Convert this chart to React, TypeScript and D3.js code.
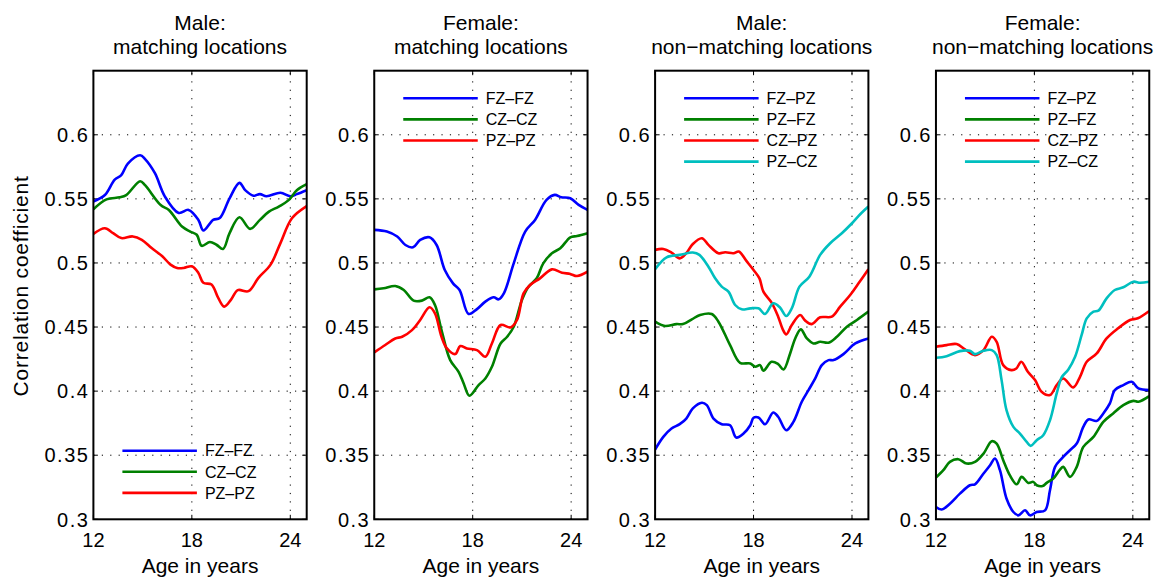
import React from "react";
import * as d3 from "d3";

// Correlation coefficient by age, per electrode pairing. Each point is [age, r].
const maleMatchFZ: [number, number][] = [
  [12, 0.548], [12.7, 0.553], [13.3, 0.565], [13.7, 0.5685], [14.1, 0.5775], [14.85, 0.584],
  [15.15, 0.581], [15.75, 0.57], [16.35, 0.552], [17.2, 0.539], [17.8, 0.5414], [18.4, 0.5336],
  [18.7, 0.5253], [19.3, 0.5336], [19.7, 0.535], [20.3, 0.5504], [20.9, 0.5625], [21.25, 0.5568],
  [21.75, 0.5525], [22.15, 0.5537], [22.55, 0.552], [23.4, 0.5548], [24, 0.552], [24.4, 0.5537],
  [25, 0.5568],
];
const maleMatchCZ: [number, number][] = [
  [12, 0.5419], [12.8, 0.5496], [13.6, 0.5512], [14.0, 0.553], [14.85, 0.5638], [15.15, 0.5607],
  [16.1, 0.5452], [16.6, 0.5413], [17.4, 0.5284], [17.9, 0.5245], [18.3, 0.522], [18.6, 0.5134],
  [19.1, 0.5163], [19.5, 0.5142], [19.9, 0.5109], [20.3, 0.5233], [20.9, 0.5357], [21.55, 0.5266],
  [22.15, 0.5336], [22.7, 0.54], [23.3, 0.544], [23.9, 0.549], [24.4, 0.5568], [25, 0.5615],
];
const maleMatchPZ: [number, number][] = [
  [12, 0.5227], [12.7, 0.5271], [13.2, 0.5233], [13.7, 0.5194], [14.4, 0.5207], [14.95, 0.5181],
  [15.55, 0.5116], [16.2, 0.5052], [16.7, 0.4987], [17.1, 0.4961], [17.5, 0.4961], [18.0, 0.4974],
  [18.4, 0.4922], [18.7, 0.4845], [19.2, 0.4832], [19.6, 0.4729], [19.97, 0.4659], [20.4, 0.4716],
  [20.8, 0.4788], [21.45, 0.478], [22.06, 0.4884], [22.8, 0.4987], [23.4, 0.5155], [24.1, 0.5349],
  [25, 0.5444],
];

const femaleMatchFZ: [number, number][] = [
  [12, 0.5258], [12.77, 0.5245], [13.4, 0.5206], [13.9, 0.514], [14.36, 0.5122], [14.8, 0.518],
  [15.37, 0.52], [15.8, 0.514], [16.3, 0.4945], [16.8, 0.4841], [17.2, 0.4789], [17.75, 0.4602],
  [18.26, 0.464], [18.77, 0.4698], [19.28, 0.4732], [19.58, 0.4716], [19.9, 0.4763], [20.5, 0.4997],
  [21.2, 0.5245], [21.8, 0.5336], [22.5, 0.5492], [23.0, 0.5531], [23.4, 0.5513], [23.95, 0.5505],
  [24.46, 0.5453], [25, 0.5414],
];
const femaleMatchCZ: [number, number][] = [
  [12, 0.4794], [12.57, 0.4802], [13.28, 0.482], [13.8, 0.4789], [14.4, 0.4706], [14.9, 0.4706],
  [15.37, 0.4732], [15.7, 0.4672], [16.1, 0.4477], [16.63, 0.4242], [17.14, 0.4151], [17.45, 0.406],
  [17.8, 0.3964], [18.36, 0.4047], [18.77, 0.4099], [19.17, 0.419], [19.7, 0.4372], [20.1, 0.4424],
  [20.5, 0.4502], [21.0, 0.4711], [21.4, 0.4815], [21.9, 0.488], [22.3, 0.4997], [22.83, 0.5075],
  [23.34, 0.5115], [23.95, 0.52], [24.36, 0.521], [25, 0.5232],
];
const femaleMatchPZ: [number, number][] = [
  [12, 0.4302], [12.67, 0.436], [13.28, 0.4411], [13.7, 0.4424], [14.3, 0.4476], [14.8, 0.4555],
  [15.37, 0.4654], [15.7, 0.4607], [16.1, 0.4424], [16.43, 0.4333], [16.94, 0.4289], [17.24, 0.4352],
  [17.65, 0.4333], [18.26, 0.432], [18.77, 0.4268], [19.17, 0.4372], [19.7, 0.4516], [20.3, 0.4497],
  [20.7, 0.4555], [21.1, 0.4763], [21.5, 0.4828], [22.1, 0.488], [22.83, 0.495], [23.44, 0.4924],
  [23.95, 0.4914], [24.36, 0.4898], [25, 0.4932],
];

const maleNonFZPZ: [number, number][] = [
  [12, 0.3544], [12.5, 0.3643], [13.0, 0.3708], [13.5, 0.3742], [13.9, 0.3786], [14.3, 0.3865],
  [14.85, 0.3909], [15.15, 0.3891], [15.56, 0.3786], [16.06, 0.3742], [16.57, 0.3734], [16.94, 0.3638],
  [17.39, 0.3669], [17.8, 0.3734], [18.0, 0.3792], [18.3, 0.3794], [18.7, 0.3742], [19.2, 0.3833],
  [19.5, 0.38], [19.99, 0.3695], [20.43, 0.376], [20.94, 0.3917], [21.35, 0.4008], [21.76, 0.4099],
  [22.16, 0.4203], [22.57, 0.4242], [22.87, 0.4242], [23.48, 0.4289], [24.2, 0.4372], [25, 0.4411],
];
const maleNonPZFZ: [number, number][] = [
  [12, 0.4542], [12.6, 0.4508], [13.3, 0.4523], [13.7, 0.4523], [14.24, 0.456], [14.74, 0.4594],
  [15.45, 0.4602], [15.86, 0.4542], [16.57, 0.4359], [17.18, 0.4221], [17.8, 0.4216], [18.1, 0.419],
  [18.4, 0.4203], [18.6, 0.4159], [19.1, 0.4229], [19.5, 0.4211], [19.83, 0.4169], [20.23, 0.4294],
  [20.54, 0.4411], [20.88, 0.4482], [21.25, 0.4411], [21.65, 0.4372], [22.06, 0.4385], [22.57, 0.4378],
  [23.08, 0.4424], [23.69, 0.4503], [24.3, 0.4555], [25, 0.462],
];
const maleNonCZPZ: [number, number][] = [
  [12, 0.5102], [12.5, 0.5109], [13.0, 0.5081], [13.5, 0.5036], [13.9, 0.5076], [14.3, 0.5148],
  [14.85, 0.5193], [15.25, 0.5141], [15.86, 0.5076], [16.27, 0.5083], [16.78, 0.5076], [17.1, 0.5089],
  [17.6, 0.501], [18.0, 0.4945], [18.36, 0.488], [18.6, 0.4776], [19.1, 0.469], [19.5, 0.4581],
  [19.78, 0.4482], [19.99, 0.4443], [20.33, 0.4516], [20.84, 0.4594], [21.15, 0.455], [21.55, 0.4523],
  [22.06, 0.4576], [22.77, 0.4581], [23.28, 0.4659], [23.89, 0.475], [24.4, 0.4841], [25, 0.4951],
];
const maleNonPZCZ: [number, number][] = [
  [12, 0.4951], [12.7, 0.5044], [13.5, 0.5063], [14.3, 0.5081], [14.7, 0.5063], [15.25, 0.4971],
  [15.66, 0.488], [16.06, 0.4815], [16.47, 0.4776], [16.88, 0.4672], [17.28, 0.4638], [17.8, 0.4646],
  [18.3, 0.4646], [18.7, 0.4602], [19.2, 0.4685], [19.6, 0.4654], [19.99, 0.4586], [20.33, 0.4646],
  [20.8, 0.4815], [21.4, 0.4893], [22.06, 0.5063], [22.67, 0.5154], [23.38, 0.5232], [24.0, 0.531],
  [24.5, 0.538], [25, 0.544],
];

const femaleNonFZPZ: [number, number][] = [
  [12, 0.3096], [12.35, 0.3076], [12.85, 0.3122], [13.46, 0.32], [14.07, 0.3266], [14.38, 0.3273],
  [14.9, 0.3357], [15.3, 0.3422], [15.6, 0.3474], [15.9, 0.3383], [16.3, 0.3162], [16.72, 0.3057],
  [17.02, 0.3031], [17.43, 0.307], [17.73, 0.3031], [18.14, 0.3057], [18.65, 0.307], [18.95, 0.3227],
  [19.26, 0.3409], [19.66, 0.3474], [20.17, 0.3539], [20.58, 0.3591], [20.98, 0.3721], [21.29, 0.3779],
  [21.8, 0.3768], [22.2, 0.3826], [22.6, 0.3904], [22.9, 0.4008], [23.42, 0.4047], [23.93, 0.4073],
  [24.34, 0.4021], [25, 0.4008],
];
const femaleNonPZFZ: [number, number][] = [
  [12, 0.3326], [12.45, 0.3383], [12.85, 0.3448], [13.36, 0.3469], [13.87, 0.3435], [14.38, 0.3448],
  [14.9, 0.3513], [15.4, 0.3609], [15.7, 0.3591], [16.1, 0.3461], [16.5, 0.3344], [16.92, 0.3273],
  [17.22, 0.3331], [17.63, 0.3284], [17.93, 0.3292], [18.14, 0.3266], [18.5, 0.326], [18.75, 0.3284],
  [19.15, 0.3318], [19.56, 0.3388], [19.76, 0.3409], [20.17, 0.3331], [20.58, 0.3409], [20.98, 0.3565],
  [21.6, 0.3643], [22.2, 0.376], [22.8, 0.3826], [23.42, 0.3891], [24.03, 0.3924], [24.34, 0.3917],
  [25, 0.3961],
];
const femaleNonCZPZ: [number, number][] = [
  [12, 0.4346], [12.65, 0.4359], [13.26, 0.4367], [13.77, 0.4326], [14.38, 0.4281], [14.9, 0.432],
  [15.4, 0.4424], [15.7, 0.4385], [16.1, 0.4203], [16.6, 0.4164], [16.9, 0.4177], [17.2, 0.4229],
  [17.6, 0.4151], [18.04, 0.4086], [18.44, 0.3995], [18.95, 0.3969], [19.36, 0.4047], [19.76, 0.4099],
  [20.37, 0.4029], [20.78, 0.4112], [21.19, 0.4229], [21.8, 0.4294], [22.4, 0.4411], [23.1, 0.449],
  [23.83, 0.4555], [24.3, 0.4568], [25, 0.4625],
];
const femaleNonPZCZ: [number, number][] = [
  [12, 0.426], [12.65, 0.4273], [13.46, 0.4312], [14.07, 0.4315], [14.38, 0.4289], [14.9, 0.4315],
  [15.4, 0.432], [15.7, 0.4281], [16.0, 0.4086], [16.3, 0.3852], [16.72, 0.3721], [17.12, 0.3669],
  [17.53, 0.3604], [17.77, 0.3573], [18.14, 0.3617], [18.54, 0.3656], [18.95, 0.3773], [19.36, 0.3982],
  [19.66, 0.4107], [20.07, 0.4169], [20.48, 0.4268], [20.88, 0.4438], [21.19, 0.4568], [21.6, 0.462],
  [21.9, 0.4628], [22.4, 0.4724], [22.9, 0.4789], [23.42, 0.481], [24.03, 0.4854], [24.44, 0.4846],
  [25, 0.4854],
];

const yTicks = [0.3, 0.35, 0.4, 0.45, 0.5, 0.55, 0.6];
const xTicks = [12, 18, 24];
const matchLabels = ["FZ\u2013FZ", "CZ\u2013CZ", "PZ\u2013PZ"];
const nonMatchLabels = ["FZ\u2013PZ", "PZ\u2013FZ", "CZ\u2013PZ", "PZ\u2013CZ"];
const colors = ["#0000ff", "#008000", "#ff0000", "#00bfbf"];

type Panel = {
  title: [string, string];
  series: [number, number][][];
  labels: string[];
  legendBottom: boolean;
};

const panels: Panel[] = [
  { title: ["Male:", "matching locations"], series: [maleMatchFZ, maleMatchCZ, maleMatchPZ], labels: matchLabels, legendBottom: true },
  { title: ["Female:", "matching locations"], series: [femaleMatchFZ, femaleMatchCZ, femaleMatchPZ], labels: matchLabels, legendBottom: false },
  { title: ["Male:", "non\u2212matching locations"], series: [maleNonFZPZ, maleNonPZFZ, maleNonCZPZ, maleNonPZCZ], labels: nonMatchLabels, legendBottom: false },
  { title: ["Female:", "non\u2212matching locations"], series: [femaleNonFZPZ, femaleNonPZFZ, femaleNonCZPZ, femaleNonPZCZ], labels: nonMatchLabels, legendBottom: false },
];

const W = 1156;
const H = 580;
const TOP = 70.7;
const BOTTOM = 519.3;
const PW = 213.3;
const STEP = 280.85;
const FIRST = 93.4;
const FONT = "'Liberation Sans', Arial, Helvetica, sans-serif";

function PanelView({ p, idx }: { p: Panel; idx: number }) {
  const left = FIRST + idx * STEP;
  const right = left + PW;
  const x = d3.scaleLinear().domain([12, 25]).range([left, right]);
  const y = d3.scaleLinear().domain([0.3, 0.65]).range([BOTTOM, TOP]);
  const line = d3
    .line<[number, number]>()
    .x((d) => x(d[0]))
    .y((d) => y(d[1]))
    .curve(d3.curveCatmullRom.alpha(0.5));
  const cx = (left + right) / 2;
  const clipId = `clip-${idx}`;
  const tickLen = 4.5;
  const legendY0 = p.legendBottom ? 450.7 : 98.3;
  const legendStep = 21.1;

  return (
    <g>
      <defs>
        <clipPath id={clipId}>
          <rect x={left} y={TOP} width={PW} height={BOTTOM - TOP} />
        </clipPath>
      </defs>
      {/* title */}
      <text x={cx} y={30} textAnchor="middle" fontSize={21} fontFamily={FONT} fill="#000">
        {p.title[0]}
      </text>
      <text x={cx} y={54} textAnchor="middle" fontSize={21} fontFamily={FONT} fill="#000">
        {p.title[1]}
      </text>
      {/* dotted grid */}
      {yTicks.filter((t) => t > 0.3).map((t) => (
        <line key={`gy${t}`} x1={left} x2={right} y1={y(t)} y2={y(t)} stroke="#000" strokeWidth={1} strokeDasharray="1.2 7.2" />
      ))}
      {xTicks.filter((t) => t > 12).map((t) => (
        <line key={`gx${t}`} x1={x(t)} x2={x(t)} y1={BOTTOM} y2={TOP} stroke="#000" strokeWidth={1} strokeDasharray="1.2 7.2" />
      ))}
      {/* inward ticks */}
      {yTicks.map((t) => (
        <g key={`ty${t}`}>
          <line x1={left} x2={left + tickLen} y1={y(t)} y2={y(t)} stroke="#000" strokeWidth={1} />
          <line x1={right} x2={right - tickLen} y1={y(t)} y2={y(t)} stroke="#000" strokeWidth={1} />
        </g>
      ))}
      {xTicks.map((t) => (
        <g key={`tx${t}`}>
          <line x1={x(t)} x2={x(t)} y1={BOTTOM} y2={BOTTOM - tickLen} stroke="#000" strokeWidth={1} />
          <line x1={x(t)} x2={x(t)} y1={TOP} y2={TOP + tickLen} stroke="#000" strokeWidth={1} />
        </g>
      ))}
      {/* series */}
      <g clipPath={`url(#${clipId})`}>
        {p.series.map((s, i) => (
          <path key={i} d={line(s) ?? ""} fill="none" stroke={colors[i]} strokeWidth={2.6} strokeLinejoin="round" />
        ))}
      </g>
      {/* axes box */}
      <rect x={left} y={TOP} width={PW} height={BOTTOM - TOP} fill="none" stroke="#000" strokeWidth={2} />
      {/* tick labels */}
      {yTicks.map((t) => (
        <text key={`ly${t}`} x={left - 4} y={y(t)} dy="0.36em" textAnchor="end" fontSize={20} fontFamily={FONT} letterSpacing={1.5} fill="#000">
          {String(t)}
        </text>
      ))}
      {xTicks.map((t) => (
        <text key={`lx${t}`} x={x(t)} y={547} textAnchor="middle" fontSize={20} fontFamily={FONT} fill="#000">
          {String(t)}
        </text>
      ))}
      <text x={cx} y={573} textAnchor="middle" fontSize={21} fontFamily={FONT} fill="#000">
        Age in years
      </text>
      {/* legend */}
      {p.labels.map((lab, i) => {
        const ly = legendY0 + i * legendStep;
        return (
          <g key={lab}>
            <line x1={left + 29} x2={left + 103.5} y1={ly} y2={ly} stroke={colors[i]} strokeWidth={2.6} />
            <text x={left + 111.5} y={ly} dy="0.36em" fontSize={16} fontFamily={FONT} fill="#000">
              {lab}
            </text>
          </g>
        );
      })}
    </g>
  );
}

export default function App() {
  return (
    <svg
      width={W}
      height={H}
      viewBox={`0 0 ${W} ${H}`}
      style={{ position: "absolute", left: 0, top: 0, background: "#fff" }}
    >
      <rect x={0} y={0} width={W} height={H} fill="#fff" />
      <text
        transform={`translate(28, 286) rotate(-90)`}
        textAnchor="middle"
        fontSize={21}
        fontFamily={FONT}
        letterSpacing={0.8}
        fill="#000"
      >
        Correlation coefficient
      </text>
      {panels.map((p, i) => (
        <PanelView key={i} p={p} idx={i} />
      ))}
    </svg>
  );
}
